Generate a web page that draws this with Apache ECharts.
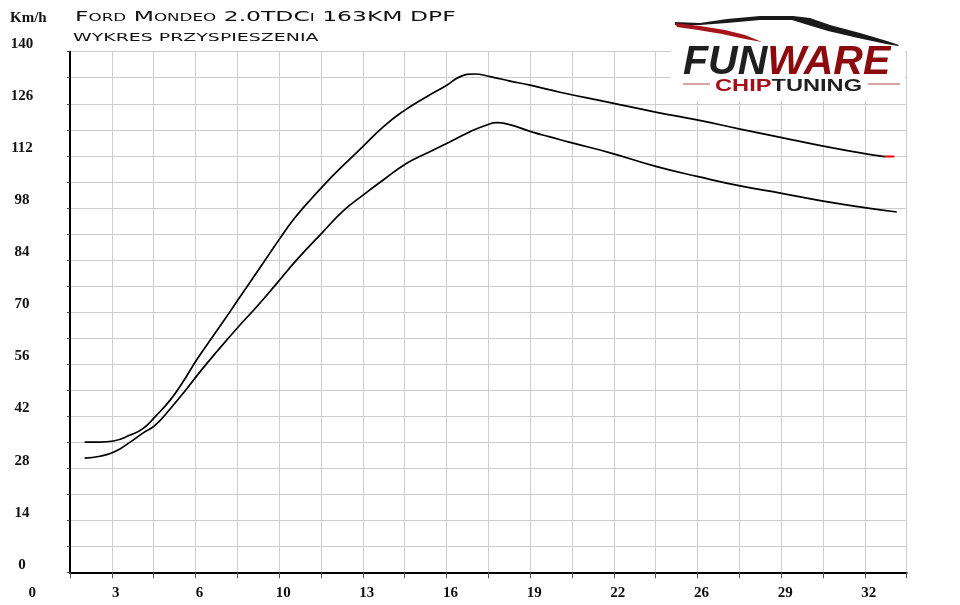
<!DOCTYPE html>
<html><head><meta charset="utf-8">
<script src="https://cdn.jsdelivr.net/npm/echarts@6/dist/echarts.min.js"></script>
<style>html,body{margin:0;padding:0;background:#fff}#c{width:960px;height:605px}</style>
</head><body><div id="c"></div>
<script>
const chartTitle = 'Ford Mondeo 2.0TDCi 163KM DPF';
const chartSubtitle = 'WYKRES PRZYSPIESZENIA';
const yUnit = 'Km/h';
const xStep = 1.6, xMin = 1.6, xMax = 33.6;
const yStep = 7, yMin = 0, yMax = 140;
const xTickLabels = ['0','3','6','10','13','16','19','22','26','29','32'];
const yTickLabels = ['0','14','28','42','56','70','84','98','112','126','140'];

const tunedTime  = [2.16,2.75,3.26,3.9,4.4,4.85,5.43,5.93,6.44,7.08,7.72,8.23,8.74,9.25,9.63,10.14,10.72,11.29,11.93,12.63,13.58,14.41,15.24,16.01,16.52,17.05,17.67,18.43,19.2,20.34,22.26,24.04,25.63,27.23,28.82,30.41,32.05,32.77];
const tunedSpeed = [35.0,35.0,35.3,36.9,38.7,41.8,46.3,51.3,57.1,63.6,70.1,75.4,80.6,85.9,89.8,94.8,99.6,104.0,108.6,113.3,119.8,124.3,127.9,131.0,133.3,134.0,133.3,132.1,131.0,129.1,126.3,123.7,121.6,119.2,116.9,114.6,112.5,111.8];

const stockTime  = [2.16,2.75,3.3,3.9,4.4,4.85,5.46,6.06,6.57,7.21,8.1,8.74,9.51,10.27,11.23,12.05,12.82,13.58,14.48,15.24,16.14,16.9,17.54,17.92,18.3,19.32,19.96,20.73,22.26,24.04,25.63,27.23,28.82,30.41,32.05,33.22];
const stockSpeed = [30.7,31.2,32.4,35.0,37.5,39.5,44.2,49.3,53.9,59.3,66.5,71.4,77.7,84.0,91.2,97.2,101.5,105.5,110.0,112.7,115.8,118.5,120.3,120.9,120.6,118.3,117.1,115.6,112.8,109.1,106.4,103.9,101.9,99.8,98.0,96.9];

const endMarkTime  = [32.77,33.13];
const endMarkSpeed = [111.8,111.8];

function pairs(xs, ys){ return xs.map((x,i)=>[x, ys[i]]); }

const chart = echarts.init(document.getElementById('c'), null, {renderer:'canvas'});
const labelFont = {fontFamily:'"Liberation Serif", serif', fontWeight:'bold', fontSize:15, color:'#111'};

chart.setOption({
  animation:false,
  backgroundColor:'#fff',
  grid:{left:70, top:51.7, right:53.3, bottom:32.7, containLabel:false},
  xAxis:{
    type:'value', min:xMin, max:xMax, interval:xStep,
    axisLine:{show:true, lineStyle:{color:'#000', width:2}},
    axisTick:{show:true, length:6, lineStyle:{color:'#555', width:1}},
    axisLabel:Object.assign({
      margin:13, padding:[0,0,0,8],
      formatter:function(v){
        const k = Math.round(v / xStep);
        if (k % 2 === 0) { return xTickLabels[k/2] || ''; }
        return '';
      }
    }, labelFont),
    splitLine:{show:true, lineStyle:{color:'#cdcdcd', width:1}}
  },
  yAxis:{
    type:'value', min:yMin, max:yMax, interval:yStep,
    axisLine:{show:true, lineStyle:{color:'#000', width:2}},
    axisTick:{show:true, length:3, lineStyle:{color:'#444', width:1}},
    axisLabel:Object.assign({
      margin:48, align:'center', verticalAlign:'bottom',
      formatter:function(v){
        const k = Math.round(v / yStep);
        if (k % 2 === 0) { return yTickLabels[k/2] || ''; }
        return '';
      }
    }, labelFont),
    splitLine:{show:true, lineStyle:{color:'#cdcdcd', width:1}}
  },
  series:[
    {type:'line', name:'tuned', data:pairs(tunedTime,tunedSpeed), showSymbol:false, smooth:0.5,
     lineStyle:{color:'#000', width:1.7}, z:3},
    {type:'line', name:'stock', data:pairs(stockTime,stockSpeed), showSymbol:false, smooth:0.5,
     lineStyle:{color:'#000', width:1.7}, z:3},
    {type:'line', name:'end', data:pairs(endMarkTime,endMarkSpeed), showSymbol:false,
     lineStyle:{color:'#ff0000', width:2}, z:4}
  ],
  graphic:[
    {type:'text', id:'yunit', left:10, top:11, style:{text:yUnit, fontFamily:'"Liberation Serif"', fontWeight:'bold', fontSize:15, fill:'#111'}},
    {type:'text', id:'title', x:75, y:10, scaleX:1.675, style:{text:chartTitle, font:'small-caps 14px "DejaVu Sans"', fill:'#111', textVerticalAlign:'top'}},
    {type:'text', id:'subtitle', x:73, y:33, scaleX:1.72, style:{text:chartSubtitle, fontFamily:'"DejaVu Sans"', fontSize:11, fill:'#111', textVerticalAlign:'top'}},
    {type:'group', id:'logo', z:100, children:[
      {type:'rect', shape:{x:671, y:0, width:234, height:101}, style:{fill:'#fff'}, z:100},
      {type:'polygon', z:101, shape:{points:[[675,22],[700,23],[727,19],[760,16],[793,16],[810,18],[830,25],[860,33],[887,41],[899,45],[898,46],[886,44],[858,38],[828,31],[808,25],[792,20],[760,20],[727,23],[700,25],[675,25]]}, style:{fill:'#1a1a1a'}},
      {type:'polygon', z:101, shape:{points:[[675,23],[700,26],[725,30],[745,35],[762,42],[745,39],[722,34],[698,30],[677,27]]}, style:{fill:'#a5151b'}},
      {type:'text', z:102, x:683, y:83, style:{text:'{a|FUN}{b|WARE}', textVerticalAlign:'bottom',
        rich:{a:{fontFamily:'"Liberation Sans"', fontStyle:'italic', fontWeight:'bold', fontSize:41, fill:'#1f1f1f'}, b:{fontFamily:'"Liberation Sans"', fontStyle:'italic', fontWeight:'bold', fontSize:41, fill:'#8c0a0d'}}}},
      {type:'line', z:101, shape:{x1:683,y1:84,x2:710,y2:84}, style:{stroke:'#b24a4a', lineWidth:1}},
      {type:'line', z:101, shape:{x1:868,y1:84,x2:900,y2:84}, style:{stroke:'#b24a4a', lineWidth:1}},
      {type:'text', z:102, x:715, y:95, scaleX:1.39, style:{text:'{a|CHIP}{b|TUNING}', textVerticalAlign:'bottom',
        rich:{a:{fontFamily:'"Liberation Sans"', fontWeight:'bold', fontSize:17, fill:'#a3101a'}, b:{fontFamily:'"Liberation Sans"', fontWeight:'bold', fontSize:17, fill:'#1f1f1f'}}}}
    ]},
    {type:'text', id:'x0label', x:0, y:0, style:{text:xTickLabels[0], fontFamily:'"Liberation Serif"', fontWeight:'bold', fontSize:15, fill:'#111', textAlign:'center', textVerticalAlign:'top'}}
  ]
});

const zeroPx = chart.convertToPixel({xAxisIndex:0}, 0);
const axisPy = chart.convertToPixel({yAxisIndex:0}, 0);
chart.setOption({graphic:[{id:'x0label', x:zeroPx + 4, y:axisPy + 13}]});
</script>
</body></html>
